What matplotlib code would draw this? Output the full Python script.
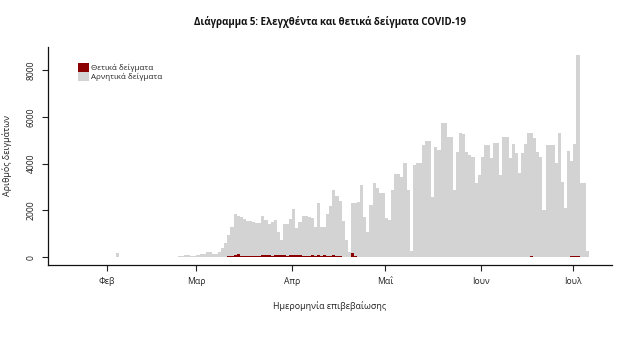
import numpy as np
import pandas as pd
import matplotlib
matplotlib.use('Agg')
import matplotlib.pyplot as plt
from matplotlib.patches import Patch

plt.rcParams['font.family'] = ['Open Sans', 'DejaVu Sans']

# daily samples from 1 Feb 2020
start_date = '2020-02-01'
total_samples = [
    0, 0, 0, 170, 0, 0, 0, 0, 0, 0,
    0, 0, 0, 0, 0, 0, 0, 0, 0, 0,
    0, 0, 20, 40, 60, 80, 90, 70, 60, 90,
    120, 140, 240, 240, 150, 150, 240, 400, 600, 950,
    1300, 1840, 1780, 1720, 1650, 1550, 1550, 1500, 1480, 1480,
    1780, 1600, 1420, 1500, 1590, 1100, 740, 1410, 1410, 1650,
    2050, 1260, 1500, 1780, 1780, 1700, 1670, 1280, 2330, 1310,
    1310, 1840, 2190, 2875, 2600, 2400, 1540, 740, 240, 2300,
    2300, 2380, 3090, 1730, 1090, 2230, 3160, 2950, 2760, 2760,
    1670, 1590, 2870, 3560, 3560, 3440, 4010, 2870, 250, 3940,
    4010, 4010, 4800, 4980, 4980, 2590, 4720, 4580, 5720, 5720,
    5150, 5150, 2870, 4510, 5300, 5270, 4510, 4370, 4300, 3160,
    3520, 4270, 4800, 4800, 4230, 4900, 4900, 3520, 5130, 5130,
    4230, 4840, 4440, 3590, 4440, 4840, 5300, 5300, 5080, 4510,
    4300, 2030, 4800, 4800, 4800, 4030, 5300, 3230, 2100, 4550,
    4130, 4840, 8640, 3160, 3160, 280,
]
positive_samples = [
    0, 0, 0, 0, 0, 0, 0, 0, 0, 0,
    0, 0, 0, 0, 0, 0, 0, 0, 0, 0,
    0, 0, 0, 0, 0, 1, 2, 1, 3, 0,
    0, 3, 2, 25, 18, 15, 10, 14, 20, 35,
    45, 105, 120, 65, 70, 55, 75, 60, 70, 60,
    110, 115, 105, 75, 85, 85, 105, 100, 70, 110,
    110, 115, 85, 75, 75, 55, 85, 65, 85, 70,
    80, 55, 50, 95, 75, 40, 30, 25, 20, 195,
    70, 30, 30, 25, 20, 22, 28, 25, 22, 20,
    18, 20, 22, 28, 20, 22, 24, 28, 10, 24,
    22, 20, 26, 22, 24, 18, 22, 26, 22, 24,
    20, 22, 16, 20, 22, 26, 22, 28, 20, 16,
    14, 20, 22, 26, 22, 30, 20, 16, 22, 26,
    28, 22, 26, 20, 22, 30, 26, 34, 28, 22,
    26, 18, 22, 28, 32, 30, 26, 22, 18, 30,
    34, 40, 36, 32, 30, 8,
]
month_labels = ['Φεβ', 'Μαρ', 'Απρ', 'Μαΐ', 'Ιουν', 'Ιουλ']
y_ticks = [0, 2000, 4000, 6000, 8000]

dates = pd.date_range(start_date, periods=len(total_samples), freq='D')
positives = np.array(positive_samples)
negatives = np.array(total_samples) - positives

red = '#8b0000'
grey = '#d3d3d3'
txt = '#222222'

fig = plt.figure(figsize=(6.41, 3.58), dpi=100)
ax = fig.add_axes([48 / 641, 93 / 358, 564 / 641, 218 / 358])

ax.bar(dates, positives, width=1, align='edge', color=red, linewidth=0)
ax.bar(dates, negatives, bottom=positives, width=1, align='edge',
       color=grey, linewidth=0)

t0 = pd.Timestamp(start_date)
ax.set_xlim(t0 - pd.Timedelta(days=19.06), t0 + pd.Timedelta(days=163.5))
ax.set_ylim(-330, 8980)

month_starts = pd.date_range(start_date, periods=len(month_labels), freq='MS')
ax.set_xticks(month_starts)
ax.set_xticklabels(month_labels)
ax.set_yticks(y_ticks)
ax.set_yticklabels([str(v) for v in y_ticks], rotation=90, va='center')

ax.tick_params(axis='both', length=4, width=0.8, color='#222222',
               labelsize=6.2, labelcolor=txt, pad=5)

for s in ('top', 'right'):
    ax.spines[s].set_visible(False)
for s in ('left', 'bottom'):
    ax.spines[s].set_linewidth(0.9)
    ax.spines[s].set_color('#111111')

ax.set_xlabel('Ημερομηνία επιβεβαίωσης', fontsize=6.4, color=txt)
ax.xaxis.set_label_coords(0.5, -(301 - 265) / 218)
ax.set_ylabel('Αριθμός δειγμάτων', fontsize=6.4, color=txt)
ax.yaxis.set_label_coords(-(48 - 12) / 564, 0.5)

fig.text(330 / 641, 1 - 22 / 358,
         'Διάγραμμα 5: Ελεγχθέντα και θετικά δείγματα COVID-19',
         ha='center', va='center', fontsize=7.0, fontweight='bold',
         color='#111111')

handles = [Patch(facecolor=red, label='Θετικά δείγματα'),
           Patch(facecolor=grey, label='Αρνητικά δείγματα')]
ax.legend(handles=handles, loc='upper left', bbox_to_anchor=(0.053, 0.928),
          frameon=False, fontsize=5.8, handlelength=1.35, handleheight=1.35,
          labelspacing=0, handletextpad=0.3, borderpad=0, borderaxespad=0,
          labelcolor=txt)

fig.savefig('out.png', dpi=100)
